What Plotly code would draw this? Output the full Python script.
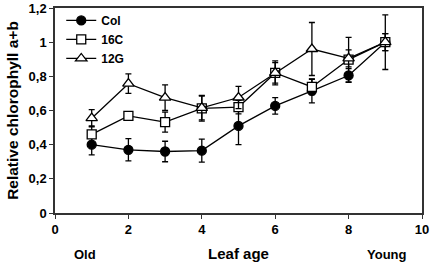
import plotly.graph_objects as go

leaf_age = [1, 2, 3, 4, 5, 6, 7, 8, 9]
col_vals = [0.40, 0.37, 0.36, 0.365, 0.51, 0.627, 0.715, 0.805, 1.0]
col_err = [0.06, 0.065, 0.06, 0.067, 0.11, 0.048, 0.07, 0.04, 0.05]
c16_vals = [0.46, 0.568, 0.532, 0.613, 0.62, 0.82, 0.738, 0.898, 1.0]
c16_err = [0.05, 0.0, 0.058, 0.075, 0.04, 0.07, 0.045, 0.13, 0.05]
g12_vals = [0.555, 0.757, 0.675, 0.615, 0.676, 0.82, 0.96, 0.905, 1.0]
g12_err = [0.05, 0.057, 0.075, 0.07, 0.065, 0.06, 0.155, 0.05, 0.16]

y_ticks = [0, 0.2, 0.4, 0.6, 0.8, 1.0, 1.2]
y_ticktext = ["0", "0,2", "0,4", "0,6", "0,8", "1", "1,2"]
x_ticks = [0, 2, 4, 6, 8, 10]

FONT = "Liberation Sans"

fig = go.Figure()

def add(name, y, err, symbol, size):
    fig.add_trace(go.Scatter(
        x=leaf_age, y=y, name=name, mode="lines+markers",
        line=dict(color="black", width=1.3),
        marker=dict(symbol=symbol, size=size, color="black" if symbol == "circle" else "white",
                    line=dict(color="black", width=1.3)),
        error_y=dict(type="data", array=err, visible=True, color="black", thickness=1.3, width=3),
    ))

add("Col", col_vals, col_err, "circle", 9)
add("16C", c16_vals, c16_err, "square", 9)
add("12G", g12_vals, g12_err, "triangle-up", 10)

fig.update_layout(
    width=430, height=264,
    margin=dict(l=55, r=8, t=6, b=51),
    plot_bgcolor="white", paper_bgcolor="white",
    font=dict(family=FONT, size=13, color="black"),
    showlegend=True,
    legend=dict(x=0.017, y=1.01, xanchor="left", yanchor="top",
                bgcolor="rgba(0,0,0,0)", font=dict(family=FONT, size=12, weight="bold"),
                itemwidth=30, tracegroupgap=0),
    xaxis=dict(range=[0, 10], tickvals=x_ticks, showgrid=False, zeroline=False, automargin=False,
               showline=True, linecolor="#333", linewidth=1.5, mirror=True,
               ticks="outside", ticklen=4, tickcolor="#333", ticklabeloverflow="allow",
               tickfont=dict(family=FONT, size=13, weight="bold"),
               title=dict(text="Leaf age", font=dict(family=FONT, size=15, weight="bold"), standoff=12)),
    yaxis=dict(range=[0, 1.2], tickvals=y_ticks, ticktext=y_ticktext, showgrid=False, zeroline=False, automargin=False,
               showline=True, linecolor="#333", linewidth=1.5, mirror=True,
               ticks="outside", ticklen=4, tickcolor="#333", ticklabeloverflow="allow",
               tickfont=dict(family=FONT, size=13, weight="bold"),
               title=dict(text="Relative chlorophyll a+b", font=dict(family=FONT, size=15.5, weight="bold"), standoff=6)),
    annotations=[
        dict(text="Old", x=0.082, y=-0.155, xref="paper", yref="paper", showarrow=False,
             xanchor="center", yanchor="top", font=dict(family=FONT, size=13, weight="bold")),
        dict(text="Young", x=0.905, y=-0.155, xref="paper", yref="paper", showarrow=False,
             xanchor="center", yanchor="top", font=dict(family=FONT, size=13, weight="bold")),
    ],
)

fig.write_html("out.html", config={"displayModeBar": False},
               post_script="document.body.style.margin='0';document.body.style.overflow='hidden';")
